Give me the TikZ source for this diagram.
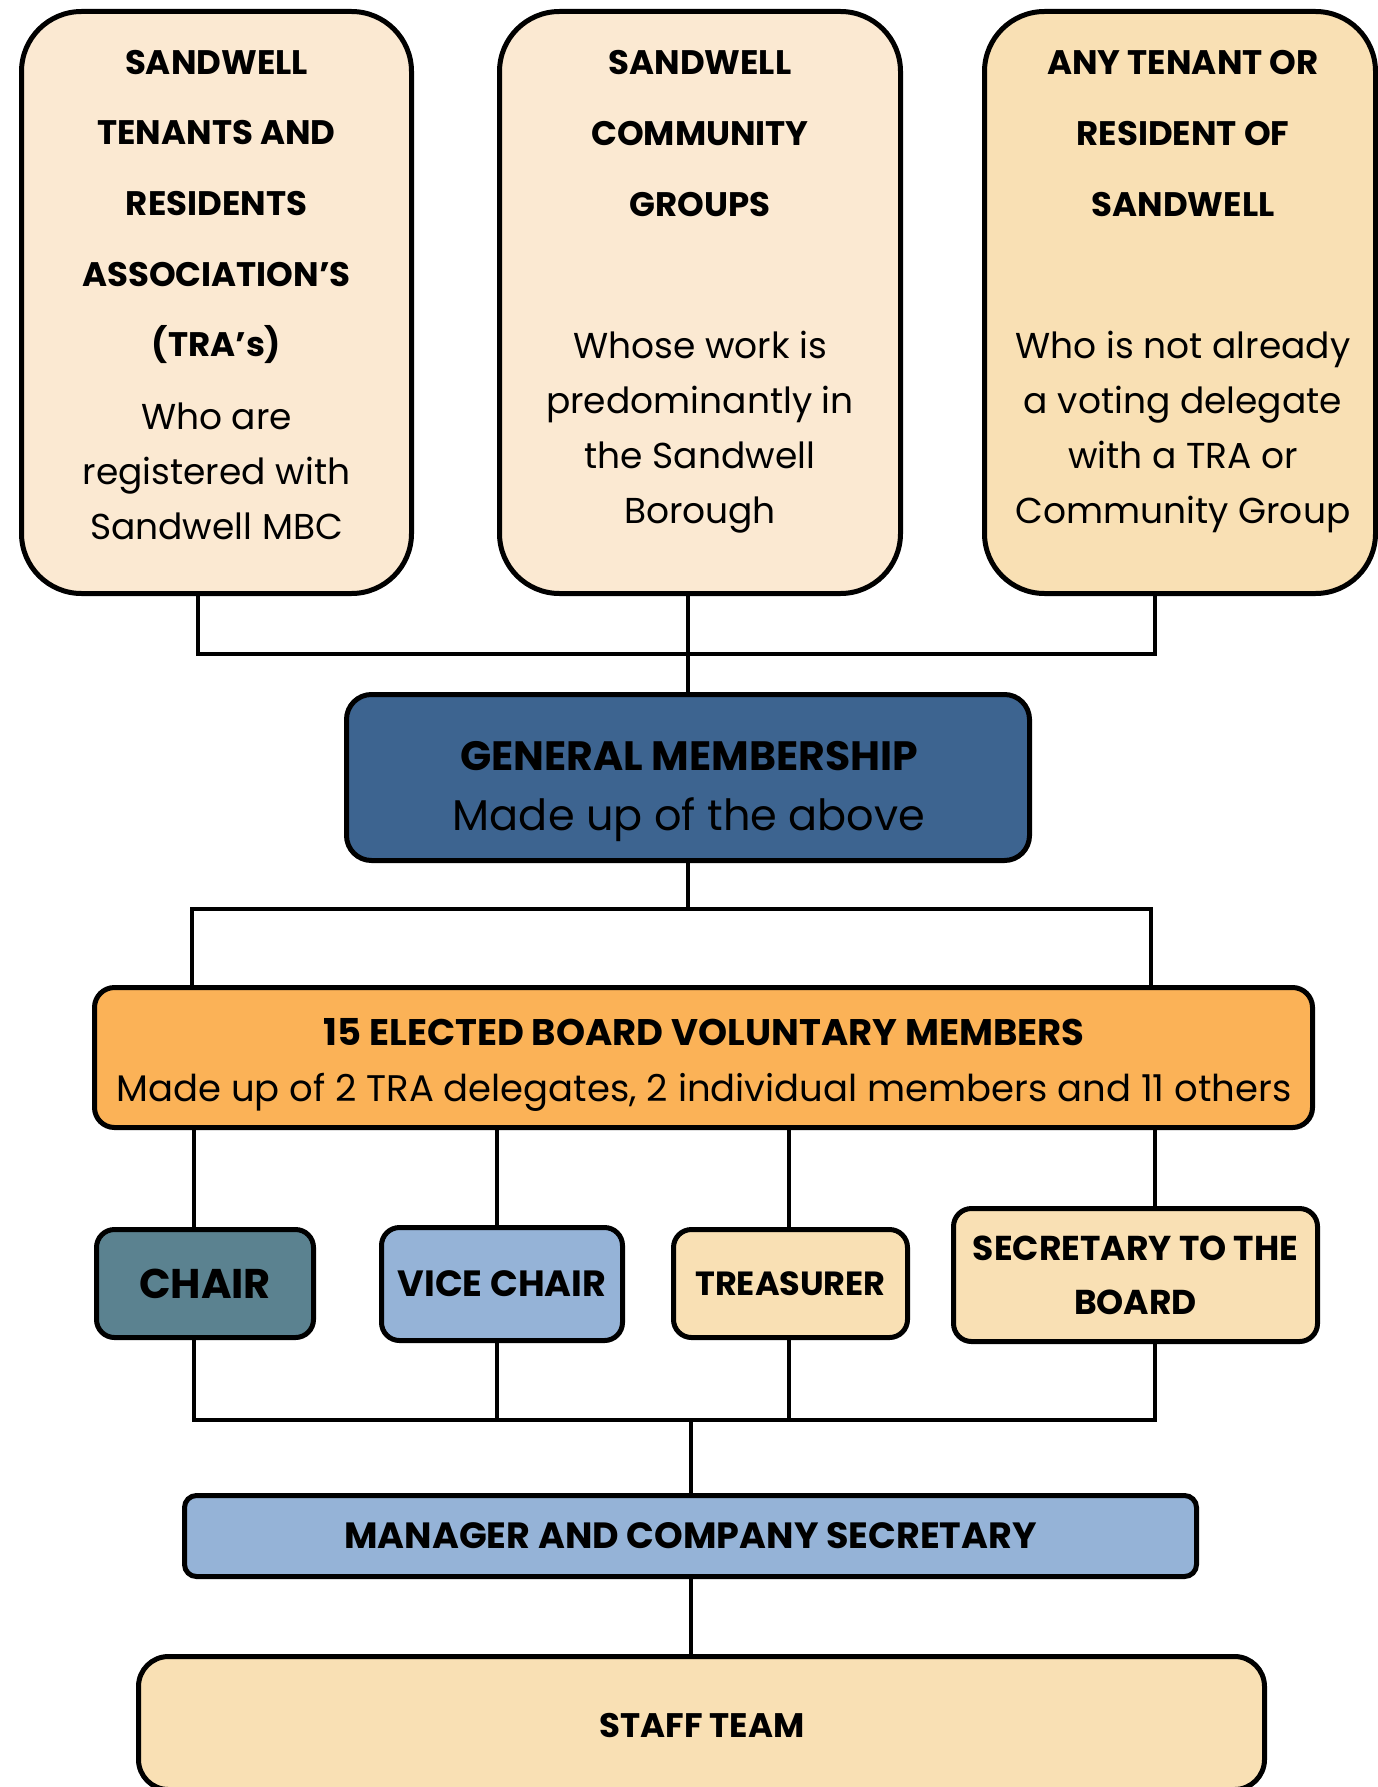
\documentclass[tikz,border=0pt]{standalone}
\usepackage{fontspec}
\setmainfont{Poppins}
\usetikzlibrary{positioning}

\definecolor{cream}{HTML}{FBE9D2}
\definecolor{sand}{HTML}{F9E0B4}
\definecolor{gmblue}{HTML}{3D6490}
\definecolor{boardorange}{HTML}{FBB257}
\definecolor{chairteal}{HTML}{5B8290}
\definecolor{paleblue}{HTML}{95B3D7}

\tikzset{
  box/.style={draw=black, line width=5pt, inner sep=0pt, rounded corners=18pt},
  link/.style={line width=4pt},
  head/.style={align=center, font=\fontsize{34}{70.7}\selectfont\bfseries},
  desc/.style={align=center, font=\fontsize{36}{55}\selectfont},
}

\begin{document}
\begin{tikzpicture}[x=1pt,y=-1pt]
    \useasboundingbox (0,0) rectangle (1377,1787);
    % top row
    \node[box, rounded corners=60pt, fill=cream, minimum width=390pt, minimum height=582pt] (tra) at (216.5,302.5) {};
    \node[box, rounded corners=60pt, fill=cream, minimum width=401pt, minimum height=582pt] (crg) at (700,302.5) {};
    \node[box, rounded corners=60pt, fill=sand, minimum width=391pt, minimum height=582pt] (any) at (1180,302.5) {};
    \node[head] (traH) at (216.5,207) {SANDWELL\\TENANTS AND\\RESIDENTS\\ASSOCIATION’S\\(TRA’s)};
    \node[desc] (traD) at (216.5,471) {Who are\\registered with\\Sandwell MBC};
    \node[head] (crgH) at (700,133.5) {SANDWELL\\COMMUNITY\\GROUPS};
    \node[desc] (crgD) at (700,432) {Whose work is\\predominantly in\\the Sandwell\\Borough};
    \node[head] (anyH) at (1183,133.5) {ANY TENANT OR\\RESIDENT OF\\SANDWELL};
    \node[desc] (anyD) at (1183,431.5) {Who is not already\\a voting delegate\\with a TRA or\\Community Group};

    % membership and board
    \node[box, rounded corners=25pt, fill=gmblue, minimum width=683pt, minimum height=166pt] (gm) at (688,777.5) {};
    \node[align=center, font=\fontsize{41}{60}\selectfont] (gmT) at (689,791) {\textbf{GENERAL MEMBERSHIP}\\\fontsize{43}{60}\selectfont Made up of the above};
    \node[box, rounded corners=20pt, fill=boardorange, minimum width=1218pt, minimum height=140pt] (board) at (703.5,1057.5) {};
    \node[align=center, font=\fontsize{37}{56}\selectfont] (boardT) at (704,1065)
          {\textbf{15 ELECTED BOARD VOLUNTARY MEMBERS}\\Made up of 2 TRA delegates, 2 individual members and 11 others};

    % officers
    \node[box, fill=chairteal, minimum width=217pt, minimum height=108pt, font=\fontsize{41.5}{40}\selectfont\bfseries] (chair) at (205,1283.5) {CHAIR};
    \node[box, fill=paleblue, minimum width=241pt, minimum height=113pt, font=\fontsize{36.5}{40}\selectfont\bfseries] (vice) at (502,1284) {VICE CHAIR};
    \node[box, fill=sand, minimum width=234pt, minimum height=108pt, font=\fontsize{33.5}{40}\selectfont\bfseries] (treas) at (790.5,1283.5) {TREASURER};
    \node[box, fill=sand, minimum width=364pt, minimum height=133pt, align=center, font=\fontsize{34.5}{54}\selectfont\bfseries] (sec) at (1135.5,1275) {SECRETARY TO THE\\BOARD};

    % staff
    \node[box, rounded corners=12pt, fill=paleblue, minimum width=1012pt, minimum height=81pt, font=\fontsize{36.5}{40}\selectfont\bfseries] (mgr) at (690.5,1536) {MANAGER AND COMPANY SECRETARY};
    \node[box, rounded corners=30pt, fill=sand, minimum width=1126pt, minimum height=133pt] (staff) at (701.5,1723) {};
    \node[font=\fontsize{34}{40}\selectfont\bfseries] (staffT) at (702,1725) {STAFF TEAM};

    % connectors
    \coordinate (tl) at (198,654);
    \coordinate (tr) at (1155,654);
    \coordinate (bl) at (192,909);
    \coordinate (br) at (1151,909);
    \coordinate (k1) at (194,1420);
    \coordinate (k2) at (497,1420);
    \coordinate (k3) at (789,1420);
    \coordinate (k4) at (1155,1420);
    \draw[link] (tra.south -| tl) -- (tl) -- (tr) -- (any.south -| tr);
    \draw[link] (crg.south -| gm.north) -- (gm.north);
    \draw[link] (gm.south) -- (gm.south |- bl);
    \draw[link] (bl |- board.north) -- (bl) -- (br) -- (br |- board.north);
    \draw[link] (board.south -| k1) -- (chair.north -| k1);
    \draw[link] (board.south -| k2) -- (vice.north -| k2);
    \draw[link] (board.south -| k3) -- (treas.north -| k3);
    \draw[link] (board.south -| k4) -- (sec.north -| k4);
    \draw[link] (chair.south -| k1) -- (k1) -- (k4) -- (sec.south -| k4);
    \draw[link] (vice.south -| k2) -- (k2);
    \draw[link] (treas.south -| k3) -- (k3);
    \draw[link] (mgr.north |- k1) -- (mgr.north);
    \draw[link] (mgr.south) -- (staff.north -| mgr.south);
\end{tikzpicture}
\end{document}
